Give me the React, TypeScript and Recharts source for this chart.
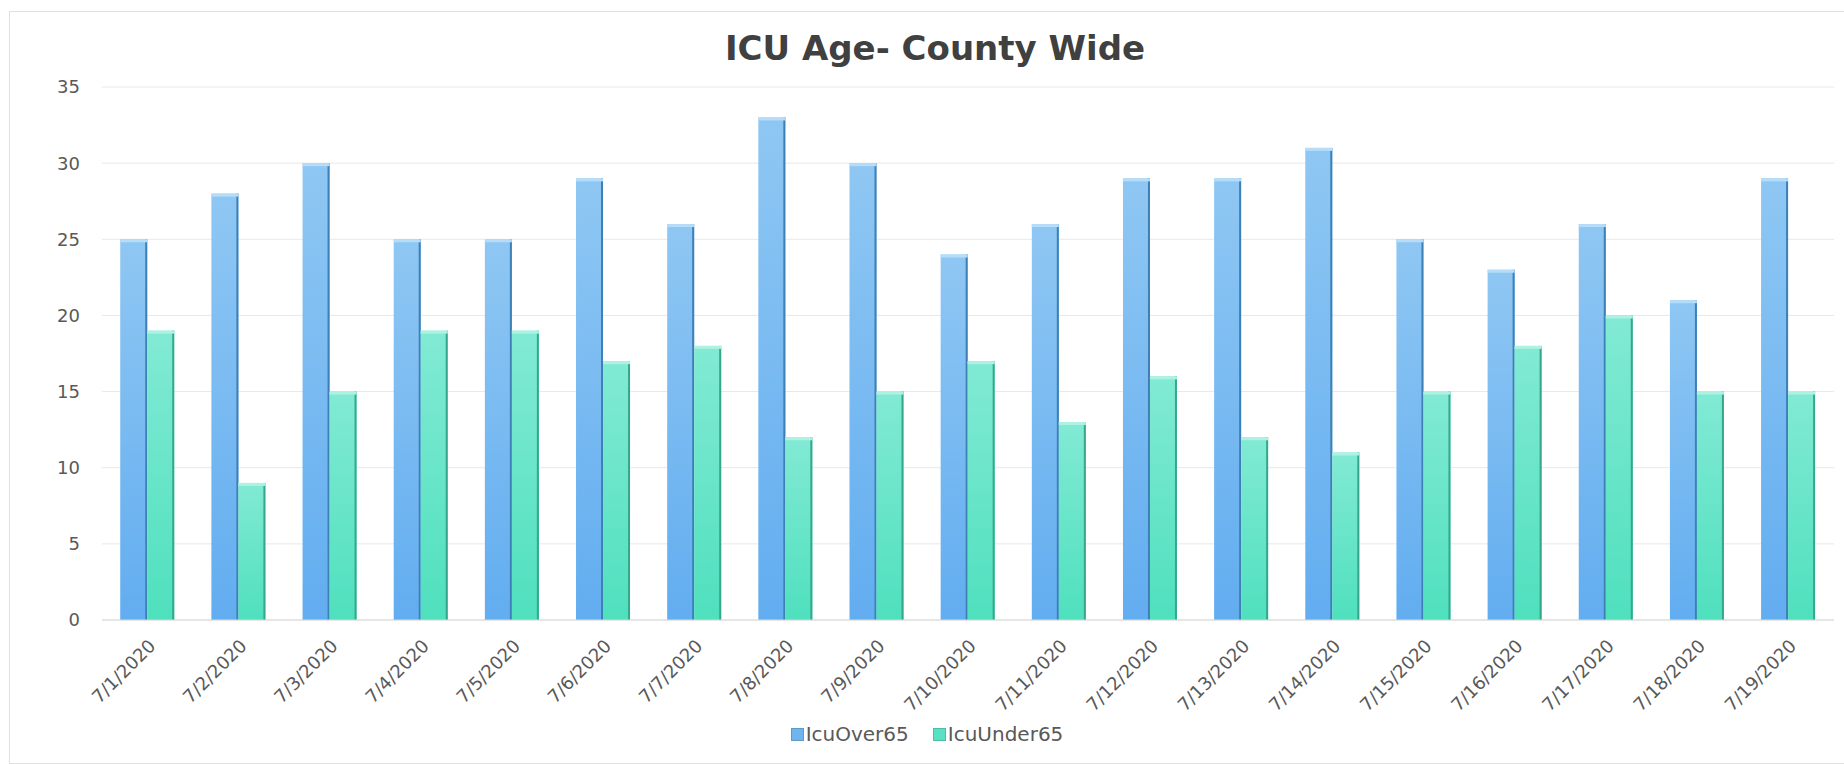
import { BarChart, Bar, XAxis, YAxis, CartesianGrid, Legend } from "recharts";

const dates = [
  "7/1/2020", "7/2/2020", "7/3/2020", "7/4/2020", "7/5/2020", "7/6/2020", "7/7/2020",
  "7/8/2020", "7/9/2020", "7/10/2020", "7/11/2020", "7/12/2020", "7/13/2020", "7/14/2020",
  "7/15/2020", "7/16/2020", "7/17/2020", "7/18/2020", "7/19/2020",
];
const icuOver65 = [25, 28, 30, 25, 25, 29, 26, 33, 30, 24, 26, 29, 29, 31, 25, 23, 26, 21, 29];
const icuUnder65 = [19, 9, 15, 19, 19, 17, 18, 12, 15, 17, 13, 16, 12, 11, 15, 18, 20, 15, 15];
const yTicks = [0, 5, 10, 15, 20, 25, 30, 35];

const data = dates.map((date, i) => ({
  date,
  IcuOver65: icuOver65[i],
  IcuUnder65: icuUnder65[i],
}));

const font = "'DejaVu Sans', sans-serif";
const textColor = "#595959";

const BarShape = (props: any) => {
  const { x, y, width, height, grad, edge, cap } = props;
  if (!height || height <= 0) return null;
  return (
    <g>
      <rect x={x} y={y} width={width} height={height} fill={`url(#${grad})`} />
      <rect x={x + width - 2} y={y} width={2} height={height} fill={edge} />
      <rect x={x} y={y} width={width} height={3} fill={cap} />
    </g>
  );
};

const legendItems = [
  { name: "IcuOver65", color: "#6fb4ee" },
  { name: "IcuUnder65", color: "#5ae0c2" },
];

const renderLegend = () => (
  <div
    style={{
      display: "flex",
      justifyContent: "center",
      paddingLeft: 34,
      fontFamily: font,
      fontSize: 20,
      color: textColor,
      lineHeight: "30px",
    }}
  >
    {legendItems.map((item) => (
      <span key={item.name} style={{ display: "flex", alignItems: "center", marginRight: 24 }}>
        <span
          style={{
            display: "inline-block",
            width: 11,
            height: 11,
            background: item.color,
            border: "1px solid rgba(0,0,0,0.15)",
            marginRight: 2,
          }}
        />
        {item.name}
      </span>
    ))}
  </div>
);

export default function App() {
  return (
    <div
      style={{
        position: "absolute",
        left: 0,
        top: 0,
        width: 1844,
        height: 764,
        overflow: "hidden",
        background: "#fff",
      }}
    >
      <div
        style={{
          position: "absolute",
          left: 9,
          top: 11,
          width: 1860,
          height: 751,
          border: "1px solid #e0e0e0",
        }}
      />
      <div
        style={{
          position: "absolute",
          left: 435,
          top: 28,
          width: 1000,
          textAlign: "center",
          fontFamily: font,
          fontWeight: "bold",
          fontSize: 34,
          color: "#404040",
        }}
      >
        ICU Age- County Wide
      </div>
      <BarChart
        width={1844}
        height={764}
        data={data}
        margin={{ top: 87, right: 10, left: 0, bottom: 15 }}
        barCategoryGap="20%"
        barGap={0}
      >
        <defs>
          <linearGradient id="gOver" x1="0" y1="0" x2="0" y2="1">
            <stop offset="0%" stopColor="#8fc7f3" />
            <stop offset="100%" stopColor="#62adf0" />
          </linearGradient>
          <linearGradient id="gUnder" x1="0" y1="0" x2="0" y2="1">
            <stop offset="0%" stopColor="#82ead4" />
            <stop offset="100%" stopColor="#4fe0be" />
          </linearGradient>
        </defs>
        <CartesianGrid vertical={false} stroke="#e8e8e8" />
        <XAxis
          dataKey="date"
          interval={0}
          angle={-45}
          textAnchor="end"
          height={99}
          tickLine={false}
          tickMargin={12}
          axisLine={{ stroke: "#d9d9d9" }}
          tick={{ fill: textColor, fontSize: 18, fontFamily: font }}
        />
        <YAxis
          width={102}
          domain={[0, 35]}
          ticks={yTicks}
          axisLine={false}
          tickLine={false}
          tickMargin={16}
          tick={{ fill: textColor, fontSize: 18, fontFamily: font }}
        />
        <Legend
          verticalAlign="bottom"
          height={30}
          width={1844}
          wrapperStyle={{ left: 0 }}
          content={renderLegend}
        />
        <Bar
          dataKey="IcuOver65"
          isAnimationActive={false}
          shape={(p: any) => <BarShape {...p} grad="gOver" edge="#3d80b6" cap="#b5dcf8" />}
        />
        <Bar
          dataKey="IcuUnder65"
          isAnimationActive={false}
          shape={(p: any) => <BarShape {...p} grad="gUnder" edge="#35a88c" cap="#aef2e3" />}
        />
      </BarChart>
    </div>
  );
}
